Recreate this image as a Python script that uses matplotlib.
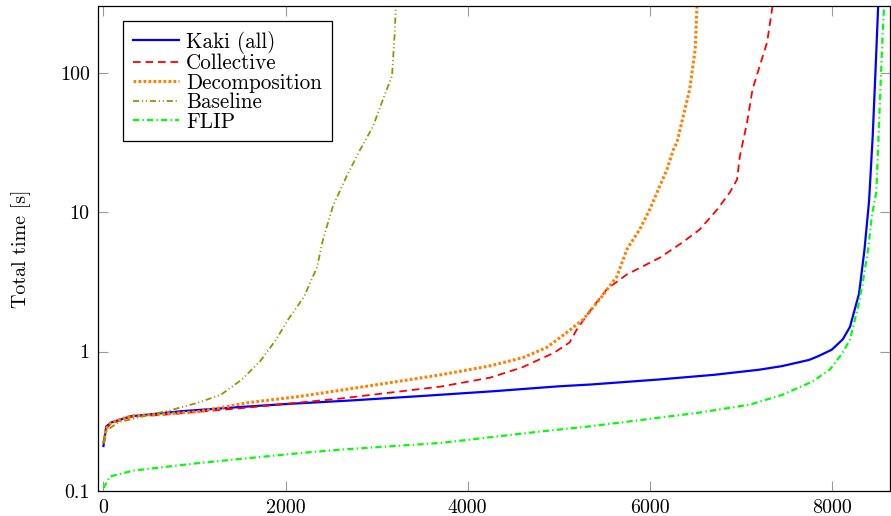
import matplotlib
matplotlib.use("Agg")
import matplotlib.pyplot as plt

plt.rcParams['font.family'] = ['cmr10', 'DejaVu Serif']
plt.rcParams['axes.formatter.use_mathtext'] = True
plt.rcParams['lines.scale_dashes'] = False

# ---- data ----
kaki_x = [0, 30, 85, 300, 850, 1500, 2000, 2700, 3500, 4300, 5000, 5350, 6100, 6700,
          7200, 7450, 7750, 7850, 8000, 8120, 8200, 8300, 8360, 8410, 8450, 8480, 8510]
kaki_y = [0.21, 0.29, 0.31, 0.343, 0.373, 0.40, 0.42, 0.445, 0.48, 0.52, 0.563, 0.58, 0.63, 0.68,
          0.74, 0.785, 0.87, 0.925, 1.03, 1.22, 1.5, 2.6, 5.4, 12, 35, 100, 300]

collective_x = [0, 30, 85, 300, 680, 1600, 2600, 3700, 4250, 4600, 4950, 5120, 5200, 5380,
                5530, 5750, 6110, 6360, 6550, 6740, 6880, 6960, 6990, 7070, 7130, 7290, 7350]
collective_y = [0.22, 0.28, 0.305, 0.34, 0.353, 0.397, 0.46, 0.56, 0.65, 0.77, 0.98, 1.16, 1.44, 2.1,
                2.8, 3.57, 4.7, 6.05, 7.5, 10.4, 13.8, 17.1, 25, 44, 76, 165, 300]

decomp_x = [0, 30, 85, 300, 1040, 1590, 2140, 2650, 3700, 4250, 4610, 4870, 5090, 5270, 5450,
            5640, 5750, 5890, 6000, 6110, 6190, 6260, 6300, 6440, 6500, 6520]
decomp_y = [0.22, 0.28, 0.31, 0.345, 0.37, 0.43, 0.475, 0.533, 0.68, 0.79, 0.905, 1.07, 1.37, 1.7, 2.36,
            3.45, 5.4, 7.5, 10.4, 15.3, 20.2, 28, 31.6, 76, 147, 300]

baseline_x = [0, 30, 160, 490, 740, 1040, 1290, 1520, 1720, 1890, 2030, 2200, 2345, 2410, 2520,
              2670, 2820, 2960, 3070, 3170, 3200, 3212]
baseline_y = [0.22, 0.27, 0.31, 0.35, 0.38, 0.43, 0.49, 0.63, 0.85, 1.2, 1.7, 2.45, 4.0, 6.3, 11,
              18, 28, 41, 64, 95, 195, 300]

flip_x = [0, 70, 325, 1060, 2160, 2600, 3700, 4800, 5350, 6550, 7100, 7460, 7790, 7980, 8120,
          8200, 8290, 8340, 8400, 8440, 8490, 8530, 8560, 8575]
flip_y = [0.105, 0.127, 0.14, 0.159, 0.187, 0.198, 0.221, 0.267, 0.291, 0.365, 0.416, 0.49, 0.61, 0.743, 0.98,
          1.22, 2.1, 3.1, 5.4, 9.3, 14, 64, 195, 300]

series_labels = ["Kaki (all)", "Collective", "Decomposition", "Baseline", "FLIP"]
x_ticks = [0, 2000, 4000, 6000, 8000]
y_ticks = [0.1, 1, 10, 100]
y_tick_labels = ["0.1", "1", "10", "100"]

fig = plt.figure(figsize=(8.91, 5.16), dpi=100)
ax = fig.add_axes([98 / 891, 1 - 491 / 516, (890 - 98) / 891, (491 - 6) / 516])

ax.plot(kaki_x, kaki_y, color=(0, 0, 1), lw=1.6, ls='-', label=series_labels[0])
ax.plot(collective_x, collective_y, color=(1, 0, 0), lw=1.3, ls=(0, (5.5, 3.5)), label=series_labels[1])
ax.plot(decomp_x, decomp_y, color=(1, 0.5, 0), lw=2.2, ls=(0, (2.0, 1.6)), label=series_labels[2])
ax.plot(baseline_x, baseline_y, color=(0.58, 0.58, 0), lw=1.3,
        ls=(0, (4.5, 2.0, 0.8, 2.0, 0.8, 2.0)), label=series_labels[3])
ax.plot(flip_x, flip_y, color=(0, 1, 0), lw=1.6, ls=(0, (4.5, 2.3, 1.0, 2.3)), label=series_labels[4])

ax.set_yscale('log')
ax.set_xlim(-60, 8640)
ax.set_ylim(0.1, 300)
ax.set_xticks(x_ticks)
ax.set_xticklabels([str(t) for t in x_ticks])
ax.set_yticks(y_ticks)
ax.set_yticklabels(y_tick_labels)
ax.minorticks_off()
ax.tick_params(which='both', direction='in', length=7, width=0.8, color='#9a9a9a',
               top=True, right=True, labelsize=14.4, pad=6)
for s in ax.spines.values():
    s.set_linewidth(0.9)
    s.set_color('black')

ax.set_ylabel("Total time [s]", fontsize=14.4, labelpad=21)

leg = ax.legend(loc='upper left', bbox_to_anchor=((123 - 98) / 792, 1 - (21 - 6) / 485),
                borderaxespad=0, fontsize=15.2, frameon=True, fancybox=False,
                edgecolor='black', framealpha=1, handlelength=2.2, handletextpad=0.35,
                labelspacing=0.0, borderpad=0.45)
leg.get_frame().set_linewidth(0.9)

fig.savefig("out.png", dpi=100)
